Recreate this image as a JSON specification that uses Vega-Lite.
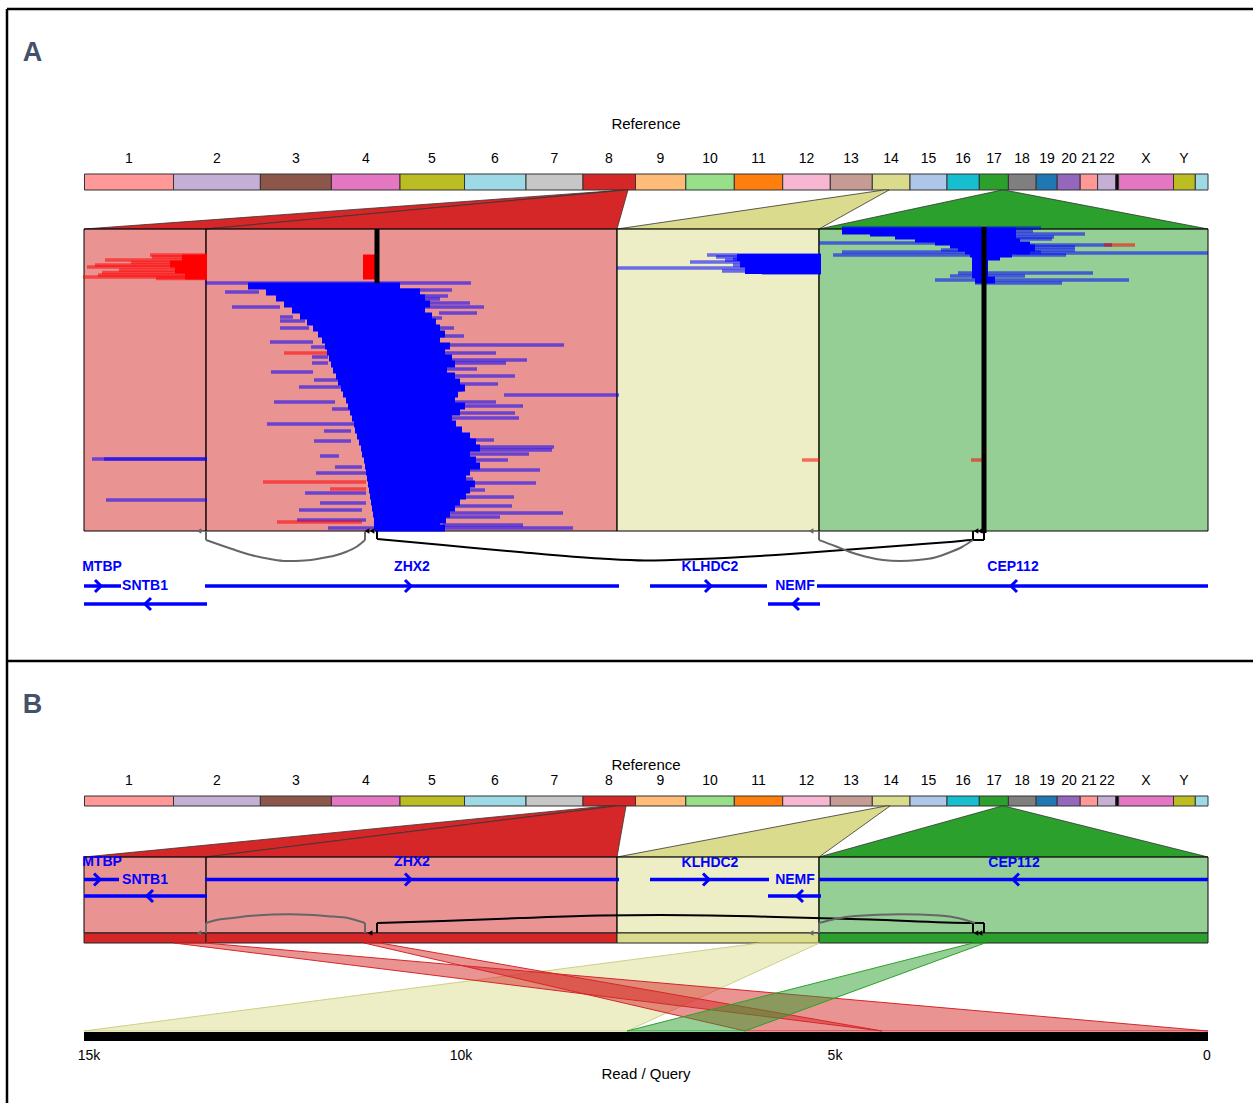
{
"$schema": "https://vega.github.io/schema/vega-lite/v6.json",
"width": 1253, "height": 1103, "autosize": "none", "padding": 0,
"background": "white",
"config": {"view": {"stroke": null}, "axis": {"disable": true}, "text": {"font": "Liberation Sans"}},
"datasets": {
"frame": [{"x":7,"y":9,"x2":1253,"y2":9},{"x":7,"y":9,"x2":7,"y2":1103},{"x":7,"y":661,"x2":1253,"y2":661}],
"letters": [{"x":32.5,"y":61,"label":"A"},{"x":32.5,"y":713,"label":"B"}],
"titles": [{"x":646,"y":124,"label":"Reference"},{"x":646,"y":765,"label":"Reference"},{"x":646,"y":1074,"label":"Read / Query"}],
"chroms": [
{"chr":"1","x":84.5,"x2":173.5,"mid":129,"label":"1","y":174,"y2":190,"ly":159},
{"chr":"2","x":173.5,"x2":260.4,"mid":217,"label":"2","y":174,"y2":190,"ly":159},
{"chr":"3","x":260.4,"x2":331.4,"mid":296,"label":"3","y":174,"y2":190,"ly":159},
{"chr":"4","x":331.4,"x2":400,"mid":366,"label":"4","y":174,"y2":190,"ly":159},
{"chr":"5","x":400,"x2":464.5,"mid":432,"label":"5","y":174,"y2":190,"ly":159},
{"chr":"6","x":464.5,"x2":526,"mid":495,"label":"6","y":174,"y2":190,"ly":159},
{"chr":"7","x":526,"x2":583,"mid":554.5,"label":"7","y":174,"y2":190,"ly":159},
{"chr":"8","x":583,"x2":635.5,"mid":609,"label":"8","y":174,"y2":190,"ly":159},
{"chr":"9","x":635.5,"x2":685.8,"mid":660.5,"label":"9","y":174,"y2":190,"ly":159},
{"chr":"10","x":685.8,"x2":734.3,"mid":710,"label":"10","y":174,"y2":190,"ly":159},
{"chr":"11","x":734.3,"x2":782.7,"mid":758.5,"label":"11","y":174,"y2":190,"ly":159},
{"chr":"12","x":782.7,"x2":830.3,"mid":806.5,"label":"12","y":174,"y2":190,"ly":159},
{"chr":"13","x":830.3,"x2":872.3,"mid":851,"label":"13","y":174,"y2":190,"ly":159},
{"chr":"14","x":872.3,"x2":910,"mid":891,"label":"14","y":174,"y2":190,"ly":159},
{"chr":"15","x":910,"x2":947,"mid":928.5,"label":"15","y":174,"y2":190,"ly":159},
{"chr":"16","x":947,"x2":979.3,"mid":963,"label":"16","y":174,"y2":190,"ly":159},
{"chr":"17","x":979.3,"x2":1008.4,"mid":994,"label":"17","y":174,"y2":190,"ly":159},
{"chr":"18","x":1008.4,"x2":1036.2,"mid":1022,"label":"18","y":174,"y2":190,"ly":159},
{"chr":"19","x":1036.2,"x2":1057.2,"mid":1047,"label":"19","y":174,"y2":190,"ly":159},
{"chr":"20","x":1057.2,"x2":1080.2,"mid":1069,"label":"20","y":174,"y2":190,"ly":159},
{"chr":"21","x":1080.2,"x2":1097.6,"mid":1089,"label":"21","y":174,"y2":190,"ly":159},
{"chr":"22","x":1097.6,"x2":1115.8,"mid":1107,"label":"22","y":174,"y2":190,"ly":159},
{"chr":"sep","x":1115.8,"x2":1118.6,"mid":1117,"label":"","y":174,"y2":190,"ly":159},
{"chr":"X","x":1118.6,"x2":1173.5,"mid":1146,"label":"X","y":174,"y2":190,"ly":159},
{"chr":"Y","x":1173.5,"x2":1195.3,"mid":1184,"label":"Y","y":174,"y2":190,"ly":159},
{"chr":"M","x":1195.3,"x2":1208,"mid":1201,"label":"","y":174,"y2":190,"ly":159},
{"chr":"1","x":84.5,"x2":173.5,"mid":129,"label":"1","y":796,"y2":806,"ly":781},
{"chr":"2","x":173.5,"x2":260.4,"mid":217,"label":"2","y":796,"y2":806,"ly":781},
{"chr":"3","x":260.4,"x2":331.4,"mid":296,"label":"3","y":796,"y2":806,"ly":781},
{"chr":"4","x":331.4,"x2":400,"mid":366,"label":"4","y":796,"y2":806,"ly":781},
{"chr":"5","x":400,"x2":464.5,"mid":432,"label":"5","y":796,"y2":806,"ly":781},
{"chr":"6","x":464.5,"x2":526,"mid":495,"label":"6","y":796,"y2":806,"ly":781},
{"chr":"7","x":526,"x2":583,"mid":554.5,"label":"7","y":796,"y2":806,"ly":781},
{"chr":"8","x":583,"x2":635.5,"mid":609,"label":"8","y":796,"y2":806,"ly":781},
{"chr":"9","x":635.5,"x2":685.8,"mid":660.5,"label":"9","y":796,"y2":806,"ly":781},
{"chr":"10","x":685.8,"x2":734.3,"mid":710,"label":"10","y":796,"y2":806,"ly":781},
{"chr":"11","x":734.3,"x2":782.7,"mid":758.5,"label":"11","y":796,"y2":806,"ly":781},
{"chr":"12","x":782.7,"x2":830.3,"mid":806.5,"label":"12","y":796,"y2":806,"ly":781},
{"chr":"13","x":830.3,"x2":872.3,"mid":851,"label":"13","y":796,"y2":806,"ly":781},
{"chr":"14","x":872.3,"x2":910,"mid":891,"label":"14","y":796,"y2":806,"ly":781},
{"chr":"15","x":910,"x2":947,"mid":928.5,"label":"15","y":796,"y2":806,"ly":781},
{"chr":"16","x":947,"x2":979.3,"mid":963,"label":"16","y":796,"y2":806,"ly":781},
{"chr":"17","x":979.3,"x2":1008.4,"mid":994,"label":"17","y":796,"y2":806,"ly":781},
{"chr":"18","x":1008.4,"x2":1036.2,"mid":1022,"label":"18","y":796,"y2":806,"ly":781},
{"chr":"19","x":1036.2,"x2":1057.2,"mid":1047,"label":"19","y":796,"y2":806,"ly":781},
{"chr":"20","x":1057.2,"x2":1080.2,"mid":1069,"label":"20","y":796,"y2":806,"ly":781},
{"chr":"21","x":1080.2,"x2":1097.6,"mid":1089,"label":"21","y":796,"y2":806,"ly":781},
{"chr":"22","x":1097.6,"x2":1115.8,"mid":1107,"label":"22","y":796,"y2":806,"ly":781},
{"chr":"sep","x":1115.8,"x2":1118.6,"mid":1117,"label":"","y":796,"y2":806,"ly":781},
{"chr":"X","x":1118.6,"x2":1173.5,"mid":1146,"label":"X","y":796,"y2":806,"ly":781},
{"chr":"Y","x":1173.5,"x2":1195.3,"mid":1184,"label":"Y","y":796,"y2":806,"ly":781},
{"chr":"M","x":1195.3,"x2":1208,"mid":1201,"label":"","y":796,"y2":806,"ly":781}
],
"conn": [
{"poly":"A8a","chr":"8","y":190,"x":624,"x2":625.5},{"poly":"A8a","chr":"8","y":229,"x":84,"x2":206},
{"poly":"A8b","chr":"8","y":190,"x":625.5,"x2":628},{"poly":"A8b","chr":"8","y":229,"x":206,"x2":617},
{"poly":"A14","chr":"14","y":190,"x":884,"x2":889},{"poly":"A14","chr":"14","y":229,"x":617,"x2":819},
{"poly":"A17","chr":"17","y":190,"x":1002,"x2":1004},{"poly":"A17","chr":"17","y":229,"x":819,"x2":1208},
{"poly":"B8a","chr":"8","y":806,"x":607,"x2":616},{"poly":"B8a","chr":"8","y":857,"x":84,"x2":206},
{"poly":"B8b","chr":"8","y":806,"x":616,"x2":626},{"poly":"B8b","chr":"8","y":857,"x":206,"x2":617},
{"poly":"B14","chr":"14","y":806,"x":886,"x2":890},{"poly":"B14","chr":"14","y":857,"x":617,"x2":819},
{"poly":"B17","chr":"17","y":806,"x":1002,"x2":1004},{"poly":"B17","chr":"17","y":857,"x":819,"x2":1208}
],
"regions": [
{"reg":"r1","chr":"8","x":84,"x2":206,"y":229,"y2":531,"part":"box"},{"reg":"r2","chr":"8","x":206,"x2":617,"y":229,"y2":531,"part":"box"},{"reg":"r3","chr":"14","x":617,"x2":819,"y":229,"y2":531,"part":"box"},{"reg":"r4","chr":"17","x":819,"x2":1208,"y":229,"y2":531,"part":"box"},
{"reg":"r1","chr":"8","x":84,"x2":206,"y":857,"y2":933,"part":"box"},{"reg":"r2","chr":"8","x":206,"x2":617,"y":857,"y2":933,"part":"box"},{"reg":"r3","chr":"14","x":617,"x2":819,"y":857,"y2":933,"part":"box"},{"reg":"r4","chr":"17","x":819,"x2":1208,"y":857,"y2":933,"part":"box"},
{"reg":"r1","chr":"8","x":84,"x2":206,"y":933,"y2":943,"part":"bar"},{"reg":"r2","chr":"8","x":206,"x2":617,"y":933,"y2":943,"part":"bar"},{"reg":"r3","chr":"14","x":617,"x2":819,"y":933,"y2":943,"part":"bar"},{"reg":"r4","chr":"17","x":819,"x2":1208,"y":933,"y2":943,"part":"bar"}
],
"reads": [
{"y":255,"x":150,"x2":207,"s":"-","c":"lo"},{"y":257,"x":152,"x2":207,"s":"-","c":"lo"},{"y":260,"x":105,"x2":207,"s":"-","c":"lo"},{"y":262.5,"x":131,"x2":207,"s":"-","c":"lo"},{"y":265,"x":95,"x2":207,"s":"-","c":"lo"},{"y":267,"x":87,"x2":207,"s":"-","c":"lo"},{"y":270,"x":119,"x2":207,"s":"-","c":"lo"},{"y":272.5,"x":102,"x2":207,"s":"-","c":"lo"},{"y":275,"x":98,"x2":207,"s":"-","c":"lo"},{"y":277,"x":83,"x2":207,"s":"-","c":"lo"},{"y":278.5,"x":156,"x2":207,"s":"-","c":"lo"},
{"y":459,"x":92,"x2":207,"s":"+","c":"lo"},{"y":459,"x":104,"x2":207,"s":"+","c":"lo"},{"y":500,"x":106,"x2":207,"s":"+","c":"lo"},
{"y":283,"x":205,"x2":471,"s":"+","c":"lo"},{"y":290,"x":389,"x2":452,"s":"+","c":"lo"},{"y":292,"x":225,"x2":259,"s":"+","c":"lo"},{"y":296,"x":393,"x2":448,"s":"+","c":"lo"},{"y":299,"x":395,"x2":440,"s":"+","c":"lo"},{"y":303,"x":400,"x2":470,"s":"+","c":"lo"},{"y":307,"x":232,"x2":280,"s":"+","c":"lo"},{"y":307,"x":404,"x2":484,"s":"+","c":"lo"},{"y":313,"x":439,"x2":477,"s":"+","c":"lo"},{"y":317,"x":280,"x2":293,"s":"+","c":"lo"},{"y":318,"x":400,"x2":442,"s":"+","c":"lo"},{"y":321,"x":280,"x2":305,"s":"+","c":"lo"},{"y":328,"x":280,"x2":309,"s":"+","c":"lo"},{"y":328,"x":397,"x2":454,"s":"+","c":"lo"},{"y":336,"x":427,"x2":464,"s":"+","c":"lo"},{"y":342,"x":270,"x2":313,"s":"+","c":"lo"},{"y":345,"x":443,"x2":564,"s":"+","c":"lo"},{"y":347,"x":311,"x2":328,"s":"+","c":"lo"},{"y":353,"x":420,"x2":496,"s":"+","c":"lo"},{"y":357,"x":312,"x2":328,"s":"+","c":"lo"},{"y":360,"x":420,"x2":527,"s":"+","c":"lo"},{"y":363,"x":312,"x2":328,"s":"+","c":"lo"},{"y":363,"x":443,"x2":506,"s":"+","c":"lo"},{"y":369,"x":404,"x2":477,"s":"+","c":"lo"},{"y":372,"x":271,"x2":313,"s":"+","c":"lo"},{"y":376,"x":404,"x2":515,"s":"+","c":"lo"},{"y":380,"x":314,"x2":339,"s":"+","c":"lo"},{"y":384,"x":404,"x2":498,"s":"+","c":"lo"},{"y":387,"x":299,"x2":341,"s":"+","c":"lo"},{"y":390,"x":427,"x2":462,"s":"+","c":"lo"},{"y":395,"x":504,"x2":619,"s":"+","c":"lo"},{"y":402,"x":274,"x2":335,"s":"+","c":"lo"},{"y":402,"x":443,"x2":496,"s":"+","c":"lo"},{"y":406,"x":443,"x2":523,"s":"+","c":"lo"},{"y":409,"x":332,"x2":351,"s":"+","c":"lo"},{"y":413,"x":458,"x2":515,"s":"+","c":"lo"},{"y":418,"x":443,"x2":519,"s":"+","c":"lo"},{"y":424,"x":267,"x2":357,"s":"+","c":"lo"},{"y":431,"x":324,"x2":351,"s":"+","c":"lo"},{"y":440,"x":443,"x2":494,"s":"+","c":"lo"},{"y":441,"x":314,"x2":351,"s":"+","c":"lo"},{"y":447,"x":473,"x2":554,"s":"+","c":"lo"},{"y":450,"x":439,"x2":552,"s":"+","c":"lo"},{"y":454,"x":443,"x2":529,"s":"+","c":"lo"},{"y":456,"x":320,"x2":339,"s":"+","c":"lo"},{"y":460,"x":381,"x2":508,"s":"+","c":"lo"},{"y":467,"x":335,"x2":362,"s":"+","c":"lo"},{"y":470,"x":439,"x2":540,"s":"+","c":"lo"},{"y":473,"x":316,"x2":366,"s":"+","c":"lo"},{"y":479,"x":420,"x2":473,"s":"+","c":"lo"},{"y":483,"x":443,"x2":536,"s":"+","c":"lo"},{"y":490,"x":443,"x2":485,"s":"+","c":"lo"},{"y":493,"x":305,"x2":366,"s":"+","c":"lo"},{"y":497,"x":443,"x2":514,"s":"+","c":"lo"},{"y":503,"x":320,"x2":366,"s":"+","c":"lo"},{"y":506,"x":443,"x2":512,"s":"+","c":"lo"},{"y":510,"x":299,"x2":362,"s":"+","c":"lo"},{"y":513,"x":443,"x2":563,"s":"+","c":"lo"},{"y":517,"x":443,"x2":500,"s":"+","c":"lo"},{"y":520,"x":297,"x2":366,"s":"+","c":"lo"},{"y":525,"x":443,"x2":523,"s":"+","c":"lo"},{"y":528,"x":328,"x2":573,"s":"+","c":"lo"},
{"y":353,"x":284,"x2":328,"s":"-","c":"lo"},{"y":482,"x":263,"x2":366,"s":"-","c":"lo"},{"y":489,"x":330,"x2":366,"s":"-","c":"lo"},{"y":522,"x":277,"x2":362,"s":"-","c":"lo"},
{"y":255,"x":707,"x2":821,"s":"+","c":"lo"},{"y":257,"x":716,"x2":821,"s":"+","c":"lo"},{"y":259,"x":733,"x2":821,"s":"+","c":"lo"},{"y":260,"x":725,"x2":821,"s":"+","c":"lo"},{"y":262,"x":690,"x2":821,"s":"+","c":"lo"},{"y":265,"x":733,"x2":821,"s":"+","c":"lo"},{"y":267,"x":745,"x2":821,"s":"+","c":"lo"},{"y":268,"x":617,"x2":821,"s":"+","c":"lo"},{"y":271,"x":722,"x2":821,"s":"+","c":"lo"},{"y":273,"x":762,"x2":821,"s":"+","c":"lo"},
{"y":228,"x":842,"x2":1041,"s":"+","c":"lo"},{"y":231,"x":887,"x2":1033,"s":"+","c":"lo"},{"y":234,"x":912,"x2":1085,"s":"+","c":"lo"},{"y":237,"x":925,"x2":1054,"s":"+","c":"lo"},{"y":239,"x":946,"x2":1052,"s":"+","c":"lo"},{"y":243,"x":819,"x2":975,"s":"+","c":"lo"},{"y":245,"x":962,"x2":1112,"s":"+","c":"lo"},{"y":247,"x":971,"x2":1075,"s":"+","c":"lo"},{"y":250,"x":941,"x2":1075,"s":"+","c":"lo"},{"y":252,"x":842,"x2":1041,"s":"+","c":"lo"},{"y":253,"x":1016,"x2":1208,"s":"+","c":"lo"},{"y":255,"x":833,"x2":1066,"s":"+","c":"lo"},{"y":273,"x":958,"x2":1093,"s":"+","c":"lo"},{"y":276,"x":950,"x2":1025,"s":"+","c":"lo"},{"y":280,"x":935,"x2":1129,"s":"+","c":"lo"},{"y":283,"x":975,"x2":1062,"s":"+","c":"lo"},
{"y":245,"x":1104,"x2":1135,"s":"-","c":"lo"},{"y":460,"x":802,"x2":820,"s":"-","c":"lo"},{"y":460,"x":971,"x2":983,"s":"-","c":"lo"},
{"y":258,"x":182,"x2":207,"s":"-","c":"hi"},{"y":264,"x":170,"x2":207,"s":"-","c":"hi"},{"y":270,"x":175,"x2":207,"s":"-","c":"hi"},{"y":276,"x":185,"x2":207,"s":"-","c":"hi"},
{"y":258,"x":363,"x2":379,"s":"-","c":"hi"},{"y":264,"x":363,"x2":379,"s":"-","c":"hi"},{"y":270,"x":363,"x2":379,"s":"-","c":"hi"},{"y":276,"x":363,"x2":379,"s":"-","c":"hi"},
{"y":286,"x":248,"x2":400,"s":"+","c":"hi"},{"y":292,"x":266,"x2":420,"s":"+","c":"hi"},{"y":298,"x":276,"x2":425,"s":"+","c":"hi"},{"y":304,"x":284,"x2":430,"s":"+","c":"hi"},{"y":310,"x":292,"x2":425,"s":"+","c":"hi"},{"y":316,"x":300,"x2":432,"s":"+","c":"hi"},{"y":322,"x":307,"x2":436,"s":"+","c":"hi"},{"y":328,"x":313,"x2":440,"s":"+","c":"hi"},{"y":334,"x":318,"x2":445,"s":"+","c":"hi"},{"y":340,"x":322,"x2":440,"s":"+","c":"hi"},{"y":346,"x":325,"x2":450,"s":"+","c":"hi"},{"y":352,"x":327,"x2":445,"s":"+","c":"hi"},{"y":358,"x":329,"x2":452,"s":"+","c":"hi"},{"y":364,"x":331,"x2":455,"s":"+","c":"hi"},{"y":370,"x":333,"x2":447,"s":"+","c":"hi"},{"y":376,"x":336,"x2":455,"s":"+","c":"hi"},{"y":382,"x":338,"x2":460,"s":"+","c":"hi"},{"y":388,"x":341,"x2":465,"s":"+","c":"hi"},{"y":394,"x":343,"x2":458,"s":"+","c":"hi"},{"y":400,"x":346,"x2":455,"s":"+","c":"hi"},{"y":406,"x":348,"x2":465,"s":"+","c":"hi"},{"y":412,"x":350,"x2":460,"s":"+","c":"hi"},{"y":418,"x":352,"x2":452,"s":"+","c":"hi"},{"y":424,"x":354,"x2":456,"s":"+","c":"hi"},{"y":430,"x":355,"x2":462,"s":"+","c":"hi"},{"y":436,"x":357,"x2":470,"s":"+","c":"hi"},{"y":442,"x":359,"x2":476,"s":"+","c":"hi"},{"y":448,"x":361,"x2":480,"s":"+","c":"hi"},{"y":454,"x":362,"x2":470,"s":"+","c":"hi"},{"y":460,"x":364,"x2":476,"s":"+","c":"hi"},{"y":466,"x":365,"x2":480,"s":"+","c":"hi"},{"y":472,"x":366,"x2":470,"s":"+","c":"hi"},{"y":478,"x":367,"x2":466,"s":"+","c":"hi"},{"y":484,"x":368,"x2":475,"s":"+","c":"hi"},{"y":490,"x":369,"x2":470,"s":"+","c":"hi"},{"y":496,"x":370,"x2":466,"s":"+","c":"hi"},{"y":502,"x":371,"x2":460,"s":"+","c":"hi"},{"y":508,"x":372,"x2":455,"s":"+","c":"hi"},{"y":514,"x":373,"x2":450,"s":"+","c":"hi"},{"y":520,"x":374,"x2":446,"s":"+","c":"hi"},{"y":526,"x":374,"x2":440,"s":"+","c":"hi"},{"y":528,"x":375,"x2":445,"s":"+","c":"hi"},
{"y":257.5,"x":737,"x2":821,"s":"+","c":"hi"},{"y":264,"x":740,"x2":821,"s":"+","c":"hi"},{"y":270.5,"x":745,"x2":821,"s":"+","c":"hi"},
{"y":231,"x":842,"x2":1016,"s":"+","c":"hi"},{"y":233,"x":870,"x2":1016,"s":"+","c":"hi"},{"y":236,"x":895,"x2":1016,"s":"+","c":"hi"},{"y":239,"x":915,"x2":1016,"s":"+","c":"hi"},{"y":242,"x":935,"x2":1020,"s":"+","c":"hi"},{"y":245,"x":950,"x2":1030,"s":"+","c":"hi"},{"y":248,"x":958,"x2":1035,"s":"+","c":"hi"},{"y":251,"x":965,"x2":1030,"s":"+","c":"hi"},{"y":254,"x":970,"x2":1012,"s":"+","c":"hi"},{"y":257,"x":972,"x2":1000,"s":"+","c":"hi"},{"y":263,"x":972,"x2":988,"s":"+","c":"hi"},{"y":269,"x":972,"x2":988,"s":"+","c":"hi"},{"y":275,"x":972,"x2":988,"s":"+","c":"hi"},{"y":280,"x":975,"x2":995,"s":"+","c":"hi"}
],
"sel": [{"x":377,"y":229,"y2":283},{"x":984,"y":227,"y2":533}],
"markers": [{"x":199,"y":531,"kind":"grey"},{"x":811,"y":531,"kind":"grey"},{"x":367,"y":531,"kind":"black"},{"x":372,"y":531,"kind":"black"},{"x":976,"y":531,"kind":"black"},{"x":980,"y":531,"kind":"black"},{"x":199,"y":933,"kind":"grey"},{"x":811,"y":933,"kind":"grey"},{"x":370,"y":933,"kind":"black"},{"x":976,"y":933,"kind":"black"},{"x":980,"y":933,"kind":"black"}],
"ticks": [
{"x":206,"y":531,"y2":540,"kind":"grey"},{"x":365,"y":531,"y2":540,"kind":"grey"},{"x":819,"y":531,"y2":540,"kind":"grey"},{"x":377,"y":531,"y2":539,"kind":"black"},{"x":973,"y":531,"y2":540,"kind":"black"},{"x":984,"y":531,"y2":540,"kind":"black"},
{"x":206,"y":923,"y2":933,"kind":"grey"},{"x":365,"y":923,"y2":933,"kind":"grey"},{"x":819,"y":923,"y2":933,"kind":"grey"},{"x":377,"y":923,"y2":933,"kind":"black"},{"x":973,"y":923,"y2":933,"kind":"black"},{"x":984,"y":923,"y2":933,"kind":"black"}
],
"arcs": [
{"arc":"gA1","kind":"grey","i":0,"x":206,"y":540},{"arc":"gA1","kind":"grey","i":1,"x":232,"y":549},{"arc":"gA1","kind":"grey","i":2,"x":251,"y":555},{"arc":"gA1","kind":"grey","i":3,"x":270,"y":559},{"arc":"gA1","kind":"grey","i":4,"x":286,"y":561},{"arc":"gA1","kind":"grey","i":5,"x":305,"y":560.5},{"arc":"gA1","kind":"grey","i":6,"x":320,"y":558.5},{"arc":"gA1","kind":"grey","i":7,"x":335,"y":555.5},{"arc":"gA1","kind":"grey","i":8,"x":347,"y":551.5},{"arc":"gA1","kind":"grey","i":9,"x":357,"y":546.5},{"arc":"gA1","kind":"grey","i":10,"x":365,"y":540},
{"arc":"kA","kind":"black","i":0,"x":377,"y":539},{"arc":"kA","kind":"black","i":1,"x":443,"y":545},{"arc":"kA","kind":"black","i":2,"x":519,"y":552},{"arc":"kA","kind":"black","i":3,"x":600,"y":558.5},{"arc":"kA","kind":"black","i":4,"x":645,"y":560.5},{"arc":"kA","kind":"black","i":5,"x":700,"y":559},{"arc":"kA","kind":"black","i":6,"x":790,"y":554},{"arc":"kA","kind":"black","i":7,"x":850,"y":549.5},{"arc":"kA","kind":"black","i":8,"x":910,"y":545},{"arc":"kA","kind":"black","i":9,"x":950,"y":542},{"arc":"kA","kind":"black","i":10,"x":973,"y":540},{"arc":"kA","kind":"black","i":11,"x":984,"y":540},
{"arc":"gA2","kind":"grey","i":0,"x":819,"y":540},{"arc":"gA2","kind":"grey","i":1,"x":835,"y":546},{"arc":"gA2","kind":"grey","i":2,"x":850,"y":552},{"arc":"gA2","kind":"grey","i":3,"x":865,"y":556.5},{"arc":"gA2","kind":"grey","i":4,"x":883,"y":560},{"arc":"gA2","kind":"grey","i":5,"x":900,"y":561},{"arc":"gA2","kind":"grey","i":6,"x":918,"y":560},{"arc":"gA2","kind":"grey","i":7,"x":935,"y":557.5},{"arc":"gA2","kind":"grey","i":8,"x":948,"y":553},{"arc":"gA2","kind":"grey","i":9,"x":962,"y":547},{"arc":"gA2","kind":"grey","i":10,"x":973,"y":540},
{"arc":"gB1","kind":"grey","i":0,"x":206,"y":923},{"arc":"gB1","kind":"grey","i":1,"x":219,"y":919.5},{"arc":"gB1","kind":"grey","i":2,"x":232,"y":918},{"arc":"gB1","kind":"grey","i":3,"x":255,"y":915.5},{"arc":"gB1","kind":"grey","i":4,"x":290,"y":914.3},{"arc":"gB1","kind":"grey","i":5,"x":328,"y":916.2},{"arc":"gB1","kind":"grey","i":6,"x":350,"y":918.5},{"arc":"gB1","kind":"grey","i":7,"x":365,"y":923},
{"arc":"kB","kind":"black","i":0,"x":377,"y":923},{"arc":"kB","kind":"black","i":1,"x":443,"y":921},{"arc":"kB","kind":"black","i":2,"x":520,"y":918},{"arc":"kB","kind":"black","i":3,"x":600,"y":915.5},{"arc":"kB","kind":"black","i":4,"x":660,"y":915},{"arc":"kB","kind":"black","i":5,"x":767,"y":916.7},{"arc":"kB","kind":"black","i":6,"x":870,"y":919.5},{"arc":"kB","kind":"black","i":7,"x":973,"y":923},{"arc":"kB","kind":"black","i":8,"x":984,"y":923},
{"arc":"gB2","kind":"grey","i":0,"x":819,"y":923},{"arc":"gB2","kind":"grey","i":1,"x":835,"y":919},{"arc":"gB2","kind":"grey","i":2,"x":855,"y":916},{"arc":"gB2","kind":"grey","i":3,"x":900,"y":914.3},{"arc":"gB2","kind":"grey","i":4,"x":940,"y":915.5},{"arc":"gB2","kind":"grey","i":5,"x":960,"y":918.5},{"arc":"gB2","kind":"grey","i":6,"x":975,"y":923}
],
"genes": [
{"gene":"MTBP","x":84,"x2":121,"y":586},{"gene":"SNTB1","x":84,"x2":207,"y":604},{"gene":"ZHX2","x":205,"x2":619,"y":586},{"gene":"KLHDC2","x":650,"x2":767,"y":586},{"gene":"CEP112","x":817,"x2":1208,"y":586},{"gene":"NEMF","x":768,"x2":820,"y":604},
{"gene":"MTBP","x":84,"x2":119,"y":879.5},{"gene":"SNTB1","x":84,"x2":207,"y":896},{"gene":"ZHX2","x":205,"x2":619,"y":879.5},{"gene":"KLHDC2","x":650,"x2":769,"y":879.5},{"gene":"CEP112","x":819,"x2":1208,"y":879.5},{"gene":"NEMF","x":768,"x2":821,"y":896}
],
"chev": [
{"x":98,"y":586,"dir":">"},{"x":148,"y":604,"dir":"<"},{"x":408,"y":586,"dir":">"},{"x":708,"y":586,"dir":">"},{"x":1014,"y":586,"dir":"<"},{"x":796,"y":604,"dir":"<"},
{"x":97,"y":879.5,"dir":">"},{"x":150,"y":896,"dir":"<"},{"x":408,"y":879.5,"dir":">"},{"x":706,"y":879.5,"dir":">"},{"x":1016,"y":879.5,"dir":"<"},{"x":800,"y":896,"dir":"<"}
],
"glabels": [
{"x":102,"y":567,"label":"MTBP"},{"x":145,"y":586,"label":"SNTB1"},{"x":412,"y":567,"label":"ZHX2"},{"x":710,"y":567,"label":"KLHDC2"},{"x":795,"y":586,"label":"NEMF"},{"x":1013,"y":567,"label":"CEP112"},
{"x":102,"y":862,"label":"MTBP"},{"x":145,"y":880,"label":"SNTB1"},{"x":412,"y":862,"label":"ZHX2"},{"x":710,"y":862.5,"label":"KLHDC2"},{"x":795,"y":880,"label":"NEMF"},{"x":1014,"y":862.5,"label":"CEP112"}
],
"ribbons": [
{"rib":"k","chr":"14","y":943,"x":760,"x2":819.5},{"rib":"k","chr":"14","y":1031,"x":84,"x2":627},
{"rib":"r1","chr":"8","y":943,"x":174,"x2":205},{"rib":"r1","chr":"8","y":1031,"x":882,"x2":1208},
{"rib":"r2","chr":"8","y":943,"x":364,"x2":380},{"rib":"r2","chr":"8","y":1031,"x":745,"x2":882},
{"rib":"g","chr":"17","y":943,"x":973,"x2":985},{"rib":"g","chr":"17","y":1031,"x":627,"x2":745}
],
"qbar": [{"x":84,"x2":1208,"y":1032,"y2":1041}],
"qlabels": [{"x":89,"y":1056,"label":"15k"},{"x":461,"y":1056,"label":"10k"},{"x":835,"y":1056,"label":"5k"},{"x":1207,"y":1056,"label":"0"}]
},
"encoding": {
"x": {"field":"x","type":"quantitative","scale":{"domain":[0,1253],"nice":false,"zero":false},"axis":null},
"y": {"field":"y","type":"quantitative","scale":{"domain":[0,1103],"nice":false,"zero":false,"reverse":true},"axis":null}
},
"layer": [
{"data":{"name":"frame"},"mark":{"type":"rule","strokeWidth":2.5,"color":"black"},"encoding":{"x2":{"field":"x2"},"y2":{"field":"y2"}}},
{"data":{"name":"letters"},"mark":{"type":"text","fontSize":27,"fontWeight":"bold","color":"#43526a","align":"center","baseline":"alphabetic"},"encoding":{"text":{"field":"label"}}},
{"data":{"name":"titles"},"mark":{"type":"text","fontSize":15,"color":"black","align":"center","baseline":"middle"},"encoding":{"text":{"field":"label"}}},
{"data":{"name":"chroms"},"mark":{"type":"rect","stroke":"#333","strokeWidth":1},"encoding":{"x2":{"field":"x2"},"y2":{"field":"y2"},
 "fill":{"field":"chr","type":"nominal","legend":null,"scale":{"domain":["1","2","3","4","5","6","7","8","9","10","11","12","13","14","15","16","17","18","19","20","21","22","sep","X","Y","M"],"range":["#ff9896","#c5b0d5","#8c564b","#e377c2","#bcbd22","#9edae5","#c7c7c7","#d62728","#ffbb78","#98df8a","#ff7f0e","#f7b6d2","#c49c94","#dbdb8d","#aec7e8","#17becf","#2ca02c","#7f7f7f","#1f77b4","#9467bd","#ff9896","#c5b0d5","#000000","#e377c2","#bcbd22","#9edae5"]}}}},
{"data":{"name":"chroms"},"mark":{"type":"text","fontSize":14,"color":"black","align":"center","baseline":"middle"},"encoding":{"x":{"field":"mid","type":"quantitative","axis":null},"y":{"field":"ly","type":"quantitative","axis":null},"text":{"field":"label"}}},
{"data":{"name":"conn"},"mark":{"type":"area","orient":"horizontal","stroke":"#333","strokeWidth":0.8,"opacity":1},"encoding":{"x":{"field":"x","type":"quantitative","stack":null,"axis":null},"x2":{"field":"x2"},"detail":{"field":"poly"},"fill":{"field":"chr","type":"nominal","legend":null}}},
{"data":{"name":"regions"},"transform":[{"filter":"datum.part === 'box'"}],"mark":{"type":"rect","fillOpacity":0.5,"stroke":"black","strokeWidth":1},"encoding":{"x2":{"field":"x2"},"y2":{"field":"y2"},"fill":{"field":"chr","type":"nominal","legend":null}}},
{"data":{"name":"regions"},"transform":[{"filter":"datum.part === 'bar'"}],"mark":{"type":"rect","stroke":"#222","strokeWidth":1},"encoding":{"x2":{"field":"x2"},"y2":{"field":"y2"},"fill":{"field":"chr","type":"nominal","legend":null}}},
{"data":{"name":"reads"},"mark":{"type":"rule","strokeCap":"butt"},"encoding":{"x2":{"field":"x2"},
 "stroke":{"field":"s","type":"nominal","legend":null,"scale":{"domain":["+","-"],"range":["#0000ff","#ff0000"]}},
 "opacity":{"field":"c","type":"nominal","legend":null,"scale":{"domain":["lo","hi"],"range":[0.55,1]}},
 "strokeWidth":{"field":"c","type":"nominal","legend":null,"scale":{"domain":["lo","hi"],"range":[3.5,7]}}}},
{"data":{"name":"sel"},"mark":{"type":"rule","strokeWidth":5,"color":"black"},"encoding":{"y2":{"field":"y2"}}},
{"data":{"name":"ticks"},"mark":{"type":"rule","strokeWidth":2},"encoding":{"y2":{"field":"y2"},"color":{"field":"kind","type":"nominal","legend":null,"scale":{"domain":["grey","black"],"range":["#666666","#000000"]}}}},
{"data":{"name":"arcs"},"mark":{"type":"line","strokeWidth":2,"interpolate":"monotone"},"encoding":{"detail":{"field":"arc"},"order":{"field":"i","type":"quantitative"},"color":{"field":"kind","type":"nominal","legend":null,"scale":{"domain":["grey","black"],"range":["#666666","#000000"]}}}},
{"data":{"name":"markers"},"mark":{"type":"point","shape":"triangle-left","filled":true,"size":30,"opacity":1},"encoding":{"color":{"field":"kind","type":"nominal","legend":null,"scale":{"domain":["grey","black"],"range":["#666666","#000000"]}}}},
{"data":{"name":"genes"},"mark":{"type":"rule","strokeWidth":3.5,"color":"#0000ff"},"encoding":{"x2":{"field":"x2"}}},
{"data":{"name":"chev"},"mark":{"type":"point","filled":false,"stroke":"#0000ff","strokeWidth":3,"size":144,"opacity":1},"encoding":{"shape":{"field":"dir","type":"nominal","legend":null,"scale":{"domain":[">","<"],"range":["M-0.5,-1L0.5,0L-0.5,1","M0.5,-1L-0.5,0L0.5,1"]}}}},
{"data":{"name":"glabels"},"mark":{"type":"text","fontSize":14,"fontWeight":"bold","color":"#0000ff","align":"center","baseline":"middle"},"encoding":{"text":{"field":"label"}}},
{"data":{"name":"ribbons"},"mark":{"type":"area","orient":"horizontal","fillOpacity":0.5,"strokeWidth":1},"encoding":{"x":{"field":"x","type":"quantitative","stack":null,"axis":null},"x2":{"field":"x2"},"detail":{"field":"rib"},"fill":{"field":"chr","type":"nominal","legend":null},
 "stroke":{"field":"chr","type":"nominal","legend":null,"scale":{"domain":["8","14","17"],"range":["#d62728","#cfcf85","#2ca02c"]}}}},
{"data":{"name":"qbar"},"mark":{"type":"rect","color":"black"},"encoding":{"x2":{"field":"x2"},"y2":{"field":"y2"}}},
{"data":{"name":"qlabels"},"mark":{"type":"text","fontSize":14,"color":"black","align":"center","baseline":"middle"},"encoding":{"text":{"field":"label"}}}
],
"resolve": {"scale": {"stroke": "independent"}}
}
